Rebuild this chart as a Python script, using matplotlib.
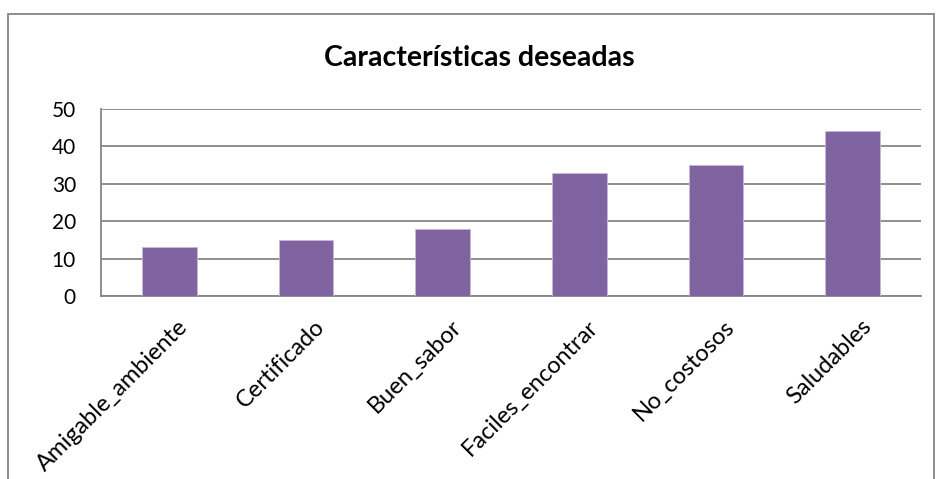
import matplotlib.pyplot as plt
from matplotlib.patches import Rectangle
import matplotlib.transforms as mtransforms

categorias = ['Amigable_ambiente', 'Certificado', 'Buen_sabor',
              'Faciles_encontrar', 'No_costosos', 'Saludables']
valores = [13, 15, 18, 33, 35, 44]

plt.rcParams['font.family'] = ['Lato', 'DejaVu Sans']

fig = plt.figure(figsize=(9.36, 4.79), dpi=100)
ax = fig.add_axes([101/936, 1 - 296/479, 820/936, 187/479])

ax.bar(range(len(categorias)), valores, width=0.4, color='#8064A2',
       edgecolor='#C9B8DB', linewidth=0.6, zorder=3)

ax.set_xlim(-0.5, len(categorias) - 0.5)
ax.set_ylim(0, 50)
ax.set_yticks([0, 10, 20, 30, 40, 50])
ax.yaxis.grid(True, color='#868686', linewidth=1.3, zorder=0)
ax.tick_params(axis='y', length=0, pad=18, labelsize=15)
ax.tick_params(axis='x', length=0, labelsize=17)

ax.set_xticks(range(len(categorias)))
ax.set_xticklabels(categorias, rotation=45, ha='right', rotation_mode='anchor')
desplaz = mtransforms.ScaledTranslation(8/100, -15/100, fig.dpi_scale_trans)
for lbl in ax.get_xticklabels():
    lbl.set_transform(lbl.get_transform() + desplaz)

for lado in ['top', 'right']:
    ax.spines[lado].set_visible(False)
for lado in ['left', 'bottom']:
    ax.spines[lado].set_color('#868686')
    ax.spines[lado].set_linewidth(1.3)

fig.text(479/936, 1 - 58/479, 'Características deseadas', ha='center', va='center',
         fontsize=20.5, fontweight='bold')

# marco del grafico
fig.patches.append(Rectangle((8/936, -0.1), 926/936, 1.1 - 14/479,
                             transform=fig.transFigure, fill=False,
                             edgecolor='#868686', linewidth=1.3))

fig.savefig('out.png', dpi=100)
